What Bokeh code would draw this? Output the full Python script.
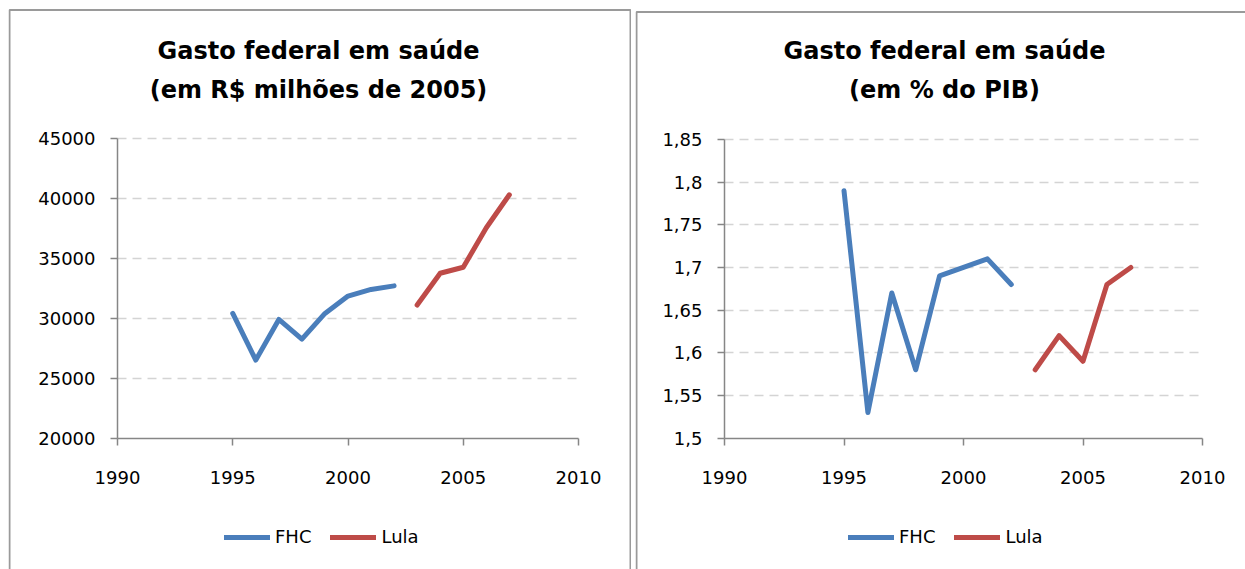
from bokeh.plotting import figure
from bokeh.models import Legend, LegendItem, FixedTicker, Range1d, Label, Spacer, BoxAnnotation
from bokeh.layouts import row, column
from bokeh.embed import file_html
from bokeh.resources import INLINE

# ---- data ----
fhc_years = [1995, 1996, 1997, 1998, 1999, 2000, 2001, 2002]
lula_years = [2003, 2004, 2005, 2006, 2007]
fhc_real = [30400, 26500, 29900, 28250, 30400, 31850, 32400, 32700]
lula_real = [31100, 33750, 34250, 37550, 40300]
fhc_pib = [1.79, 1.53, 1.67, 1.58, 1.69, 1.70, 1.71, 1.68]
lula_pib = [1.58, 1.62, 1.59, 1.68, 1.70]
x_ticks = [1990, 1995, 2000, 2005, 2010]
real_ticks = [20000, 25000, 30000, 35000, 40000, 45000]
real_tick_labels = ["20000", "25000", "30000", "35000", "40000", "45000"]
pib_ticks = [1.5, 1.55, 1.6, 1.65, 1.7, 1.75, 1.8, 1.85]
pib_tick_labels = ["1,5", "1,55", "1,6", "1,65", "1,7", "1,75", "1,8", "1,85"]
titles_real = ["Gasto federal em saúde", "(em R$ milhões de 2005)"]
titles_pib = ["Gasto federal em saúde", "(em % do PIB)"]
series_names = ["FHC", "Lula"]

BLUE = "#4a7ebb"
RED = "#be4b48"
AXIS = "#868686"
GRID = "#d4d4d4"
BORDER = "#9a9a9a"
FONT = "DejaVu Sans"
H = 561


def make_panel(W, fl, fr, ft, fb, yticks, ylabels, fhc, lula, titles, title_cx,
               legend_x, box):
    # fl, fr, ft, fb: pixel box of the data area inside the canvas (from top-left)
    x0, x1 = x_ticks[0], x_ticks[-1]
    y0, y1 = yticks[0], yticks[-1]
    sx = (x1 - x0) / (fr - fl)
    sy = (y1 - y0) / (fb - ft)
    xr = Range1d(x0 - fl * sx, x1 + (W - fr) * sx)
    yr = Range1d(y0 - (H - fb) * sy, y1 + ft * sy)

    p = figure(width=W, height=H, output_backend="svg", toolbar_location=None,
               x_range=xr, y_range=yr, min_border=0)
    p.outline_line_color = None
    p.background_fill_color = "white"
    p.border_fill_color = "white"

    bl, br, bt = box
    p.add_layout(BoxAnnotation(left=bl, right=br, top=H - bt, bottom=-6,
                               left_units="screen", right_units="screen",
                               top_units="screen", bottom_units="screen",
                               fill_alpha=0, line_color=BORDER, line_alpha=1,
                               line_width=2, line_dash="solid", level="underlay"))

    xa = p.xaxis[0]
    ya = p.yaxis[0]
    xa.fixed_location = y0
    ya.fixed_location = x0
    xa.bounds = (x0, x1)
    ya.bounds = (y0, y1)
    xa.ticker = FixedTicker(ticks=x_ticks)
    ya.ticker = FixedTicker(ticks=yticks)
    ya.major_label_overrides = {t: l for t, l in zip(yticks, ylabels)}
    for ax in (xa, ya):
        ax.axis_line_color = AXIS
        ax.axis_line_width = 1.5
        ax.major_tick_line_color = AXIS
        ax.major_tick_line_width = 1.5
        ax.major_tick_in = 0
        ax.major_tick_out = 7
        ax.minor_tick_line_color = None
        ax.major_label_text_font = FONT
        ax.major_label_text_font_size = "18px"
        ax.major_label_text_color = "black"
    ya.major_label_standoff = 15
    xa.major_label_standoff = 26

    p.xgrid.grid_line_color = None
    g = p.ygrid[0]
    g.ticker = FixedTicker(ticks=yticks[1:])
    g.bounds = (yr.start, yr.end)
    if "cross_bounds" in g.properties():
        g.cross_bounds = (x0, x1)
    g.grid_line_color = GRID
    g.grid_line_width = 1.3
    g.grid_line_dash = "9 6"

    r1 = p.line(fhc_years, fhc, line_color=BLUE, line_width=5,
                line_cap="round", line_join="round")
    r2 = p.line(lula_years, lula, line_color=RED, line_width=5,
                line_cap="round", line_join="round")

    for txt, by in zip(titles, [42, 81]):
        p.add_layout(Label(x=title_cx, y=H - by, x_units="screen", y_units="screen",
                           text=txt, text_align="center", text_baseline="alphabetic",
                           text_font=FONT, text_font_style="bold",
                           text_font_size="24px", text_color="black"))

    legend = Legend(items=[LegendItem(label=series_names[0], renderers=[r1]),
                           LegendItem(label=series_names[1], renderers=[r2])],
                    orientation="horizontal", location=(legend_x, 22),
                    glyph_width=46, glyph_height=20, label_standoff=5, spacing=19,
                    padding=0, margin=0, border_line_color=None,
                    background_fill_alpha=0,
                    label_text_font=FONT, label_text_font_size="18px",
                    label_text_color="black")
    p.add_layout(legend)
    return p


p1 = make_panel(623, 109, 570, 130, 429.5, real_ticks, real_tick_labels,
                fhc_real, lula_real, titles_real, 310, 216, (1, 622, 1.5))
p2 = make_panel(610, 89, 567, 131, 429.5, pib_ticks, pib_tick_labels,
                fhc_pib, lula_pib, titles_pib, 309, 213, (1, 616, 3.5))

layout = column(Spacer(height=8), row(Spacer(width=8), p1, Spacer(width=4), p2))
open("out.html", "w").write(file_html(layout, INLINE))
